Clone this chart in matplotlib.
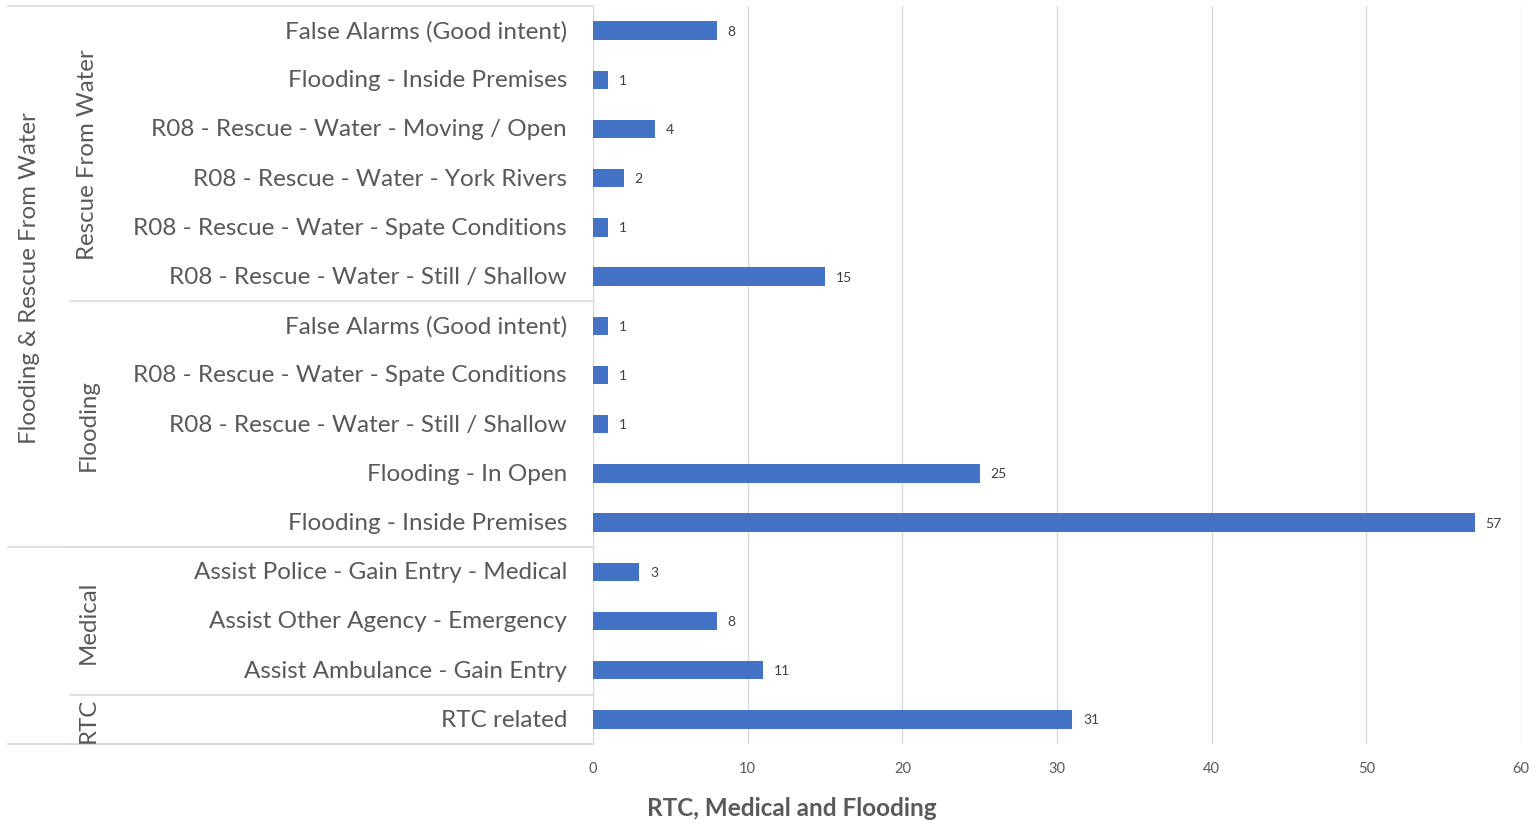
import matplotlib
matplotlib.use('Agg')
import matplotlib.pyplot as plt
import numpy as np

plt.rcParams['font.family'] = ['Lato', 'DejaVu Sans']

# categories top to bottom
labels = ['False Alarms (Good intent)', 'Flooding - Inside Premises',
          'R08 - Rescue - Water - Moving / Open', 'R08 - Rescue - Water - York Rivers',
          'R08 - Rescue - Water - Spate Conditions', 'R08 - Rescue - Water - Still / Shallow',
          'False Alarms (Good intent)', 'R08 - Rescue - Water - Spate Conditions',
          'R08 - Rescue - Water - Still / Shallow', 'Flooding - In Open',
          'Flooding - Inside Premises',
          'Assist Police - Gain Entry - Medical', 'Assist Other Agency - Emergency',
          'Assist Ambulance - Gain Entry',
          'RTC related']
values = [8, 1, 4, 2, 1, 15, 1, 1, 1, 25, 57, 3, 8, 11, 31]
groups = ['Rescue From Water', 'Flooding', 'Medical', 'RTC']
group_sizes = [6, 5, 3, 1]
outer_groups = ['Flooding & Rescue From Water', '']
outer_sizes = [11, 4]

W, H = 1537, 829
fig = plt.figure(figsize=(W / 100, H / 100), dpi=100)
x0, x1, ytop, ybot = 593, 1521, 7, 745
ax = fig.add_axes([x0 / W, 1 - ybot / H, (x1 - x0) / W, (ybot - ytop) / H])

gray = '#595959'
lgray = '#D9D9D9'
y = np.arange(len(values))
ax.barh(y, values, height=0.37, color='#4472C4', zorder=3)
ax.set_ylim(len(values) - 0.5, -0.5)
ax.set_xlim(0, 60)
ax.set_xticks(range(0, 61, 10))
ax.tick_params(axis='x', length=0, labelsize=10.5, labelcolor=gray, pad=12)
ax.set_yticks([])
ax.grid(axis='x', color=lgray, linewidth=1, zorder=0)
for s in ['top', 'right', 'bottom']:
    ax.spines[s].set_visible(False)
ax.spines['left'].set_color(lgray)

for yi, v in zip(y, values):
    ax.text(v + 0.7, yi, str(v), va='center', ha='left', fontsize=10, color='#404040')

tr = ax.get_yaxis_transform()
def fx(px):
    return (px - x0) / (x1 - x0)

for yi, lab in zip(y, labels):
    ax.text(fx(567), yi, lab, transform=tr, ha='right', va='center',
            fontsize=17.5, color=gray)

# inner group labels and separators
start = -0.5
for g, n in zip(groups, group_sizes):
    end = start + n
    ax.text(fx(88), (start + end) / 2, g, transform=tr, rotation=90,
            ha='center', va='center', fontsize=17.3, color=gray)
    ax.plot([fx(70), 0], [end, end], transform=tr, color=lgray, lw=1.2, clip_on=False)
    start = end

# outer group labels and separators
start = -0.5
ax.plot([fx(8), 0], [start, start], transform=tr, color=lgray, lw=1.2, clip_on=False)
for g, n in zip(outer_groups, outer_sizes):
    end = start + n
    ax.text(fx(30), (start + end) / 2, g, transform=tr, rotation=90,
            ha='center', va='center', fontsize=17.3, color=gray)
    ax.plot([fx(8), 0], [end, end], transform=tr, color=lgray, lw=1.2, clip_on=False)
    start = end

fig.text(792 / W, 1 - 809 / H, 'RTC, Medical and Flooding', ha='center', va='center',
         fontsize=17.5, fontweight='bold', color=gray)

fig.savefig('out.png', dpi=100)
